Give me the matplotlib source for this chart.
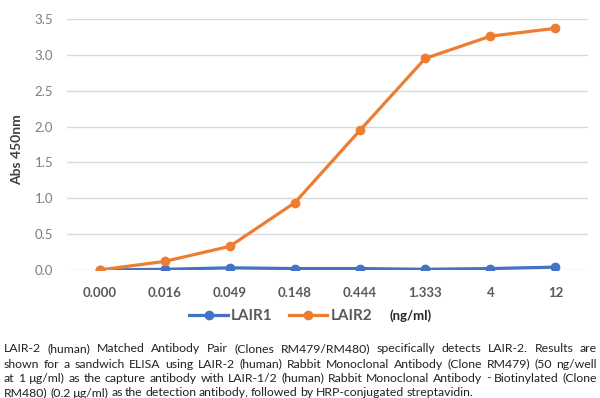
import matplotlib.pyplot as plt
import numpy as np

conc = ["0.000", "0.016", "0.049", "0.148", "0.444", "1.333", "4", "12"]
lair1 = [0.00, 0.01, 0.03, 0.02, 0.02, 0.01, 0.02, 0.04]
lair2 = [0.00, 0.12, 0.33, 0.94, 1.95, 2.95, 3.26, 3.37]

caption = [
    "LAIR-2 (human) Matched Antibody Pair (Clones RM479/RM480) specifically detects LAIR-2. Results are",
    "shown for a sandwich ELISA using LAIR-2 (human) Rabbit Monoclonal Antibody (Clone RM479) (50 ng/well",
    "at 1 \u00b5g/ml) as the capture antibody with LAIR-1/2 (human) Rabbit Monoclonal Antibody - Biotinylated (Clone",
    "RM480) (0.2 \u00b5g/ml) as the detection antibody, followed by HRP-conjugated streptavidin.",
]

plt.rcParams['font.family'] = ['Lato', 'DejaVu Sans']

fig = plt.figure(figsize=(6, 3.98), dpi=100)
ax = fig.add_axes([67/600, 1-270/398, 521/600, 251/398])

x = np.arange(len(conc))
ax.plot(x, lair1, color='#4472C4', lw=2.3, marker='o', ms=6, label='LAIR1', zorder=3)
ax.plot(x, lair2, color='#ED7D31', lw=2.3, marker='o', ms=6, label='LAIR2', zorder=3)

ax.set_xlim(-0.5, len(conc)-0.5)
ax.set_ylim(0, 3.5)
ax.set_yticks(np.arange(0, 3.51, 0.5))
ax.set_yticklabels(["%.1f" % v for v in np.arange(0, 3.51, 0.5)], color='#7f7f7f', fontsize=9.5)
ax.set_xticks(x)
ax.set_xticklabels(conc, color='#595959', fontsize=9.5, fontweight='bold')
ax.tick_params(length=0, pad=12)
ax.tick_params(axis='y', pad=10)
ax.grid(axis='y', color='#d9d9d9', lw=1)
ax.set_axisbelow(True)
for s in ax.spines.values():
    s.set_visible(False)
ax.set_ylabel("Abs 450nm", fontsize=10, fontweight='bold', color='#404040')
ax.yaxis.set_label_coords(-0.085, 0.48)

fig.legend(loc='center', bbox_to_anchor=(0.468, 1-316/398), ncol=2, frameon=False,
           handlelength=2.5, columnspacing=1.1, handletextpad=0.2,
           prop={'size': 11, 'weight': 'bold'}, labelcolor='#595959')
fig.text(390/600, 1-316/398, "(ng/ml)", fontsize=9.5, fontweight='bold', va='center', color='#262626')

# justified caption
left, right = 4, 597
ys = [349, 364, 378, 393]
fig.canvas.draw()
r = fig.canvas.get_renderer()
fs = 8.8
for i, line in enumerate(caption):
    words = line.split(" ")
    ts = [fig.text(0, 0, w, fontsize=fs, color='#222222', va='center') for w in words]
    ws = [t.get_window_extent(r).width for t in ts]
    if i < len(caption) - 1:
        gap = (right - left - sum(ws)) / (len(words) - 1)
    else:
        gap = 2.4
    xp = left
    for t, w in zip(ts, ws):
        t.set_position((xp/600, 1-ys[i]/398))
        xp += w + gap

fig.savefig("out.png", dpi=100)
